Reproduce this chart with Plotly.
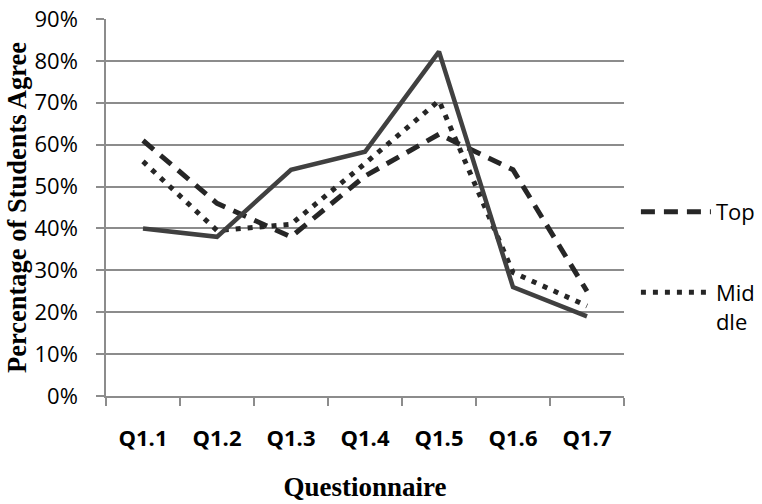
import plotly.graph_objects as go

# Survey results: share of students agreeing with each questionnaire item
questions = ["Q1.1", "Q1.2", "Q1.3", "Q1.4", "Q1.5", "Q1.6", "Q1.7"]
top = [0.61, 0.46, 0.38, 0.525, 0.625, 0.54, 0.25]
middle = [0.56, 0.395, 0.41, 0.555, 0.705, 0.295, 0.215]
bottom = [0.40, 0.38, 0.54, 0.583, 0.822, 0.26, 0.19]

y_ticks = [i / 10 for i in range(10)]
y_labels = [f"{i * 10}%" for i in range(10)]

grid_color = "#8c8c8c"
tick_font = dict(family="Open Sans", size=22, color="#000000")

fig = go.Figure()
fig.add_trace(go.Scatter(
    x=questions, y=top, name="Top", mode="lines", legendgroup="top",
    line=dict(color="#262626", width=5, dash="14px,9px"),
))
fig.add_trace(go.Scatter(
    x=questions, y=middle, name="Mid<br>dle", mode="lines", legendgroup="middle",
    line=dict(color="#262626", width=5, dash="5px,7px"),
))
fig.add_trace(go.Scatter(
    x=questions, y=bottom, name="Bottom", mode="lines", legendgroup="bottom",
    line=dict(color="#404040", width=4.5), showlegend=False,
))

fig.update_layout(
    width=762, height=504,
    margin=dict(l=106, r=138, t=19, b=108, autoexpand=False),
    paper_bgcolor="white", plot_bgcolor="white",
    showlegend=True,
    legend=dict(
        x=1.023, y=0.544, xanchor="left", yanchor="top",
        font=dict(family="Open Sans", size=22, color="#000000"),
        itemwidth=70, valign="top", traceorder="grouped",
        tracegroupgap=49, bgcolor="rgba(0,0,0,0)",
    ),
    xaxis=dict(
        type="category", range=[-0.5, 6.5],
        showline=True, linecolor=grid_color, linewidth=1.5,
        ticks="outside", tickson="boundaries", ticklen=8,
        tickcolor=grid_color, tickwidth=1.5,
        showgrid=False, zeroline=False,
        tickfont=dict(family="Open Sans", size=22, color="#000000", weight="bold"),
        ticklabelstandoff=22,
        title=dict(text="Questionnaire", standoff=26,
                   font=dict(family="Liberation Serif", size=27, color="#000000", weight="bold")),
    ),
    yaxis=dict(
        range=[0, 0.9], tickvals=y_ticks, ticktext=y_labels,
        showline=True, linecolor=grid_color, linewidth=1.5,
        ticks="outside", ticklen=8, tickcolor=grid_color, tickwidth=1.5,
        showgrid=True, gridcolor=grid_color, gridwidth=1.5,
        zeroline=False,
        tickfont=tick_font, ticklabelstandoff=14,
        title=dict(text="Percentage of Students Agree", standoff=0,
                   font=dict(family="Liberation Serif", size=26.5, color="#000000", weight="bold")),
    ),
)

fig.write_html("out.html")
